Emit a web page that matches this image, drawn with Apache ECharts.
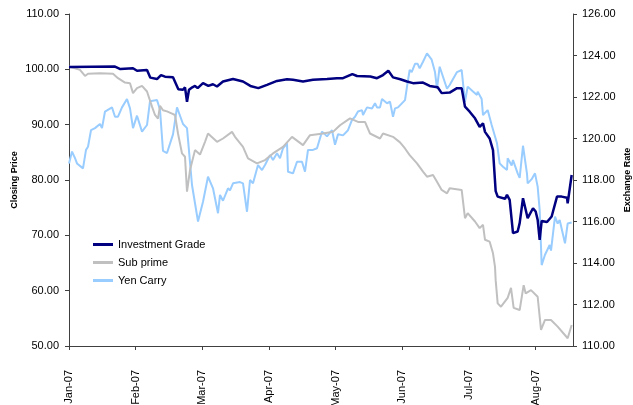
<!DOCTYPE html>
<html>
<head>
<meta charset="utf-8">
<script src="https://cdn.jsdelivr.net/npm/echarts@6/dist/echarts.min.js"></script>
<style>
  html, body { margin: 0; padding: 0; background: #fff; }
  #main { width: 633px; height: 405px; }
</style>
</head>
<body>
<div id="main"></div>
<script>
// x is months since Jan-07 (0 = Jan-07, 1 = Feb-07 ...)
var monthLabels = ['Jan-07', 'Feb-07', 'Mar-07', 'Apr-07', 'May-07', 'Jun-07', 'Jul-07', 'Aug-07'];
var monthTicks = [0, 1, 2, 3, 4, 5, 6, 7];

var investmentGrade = [
    [0, 100.4], [0.69, 100.5], [0.77, 100.05], [0.96, 100.2], [1.02, 99.75], [1.17, 99.9],
    [1.22, 98.5], [1.32, 98.25], [1.38, 98.97], [1.44, 98.67], [1.56, 98.55], [1.64, 96.4],
    [1.71, 96.3], [1.74, 96.75], [1.77, 94.15], [1.80, 96.3], [1.85, 96.75], [1.89, 97.0],
    [1.93, 96.6], [2.01, 97.5], [2.09, 97.0], [2.16, 97.3], [2.22, 96.9], [2.31, 97.8],
    [2.46, 98.25], [2.61, 97.8], [2.72, 97.0], [2.84, 96.6], [2.97, 97.2], [3.12, 97.9],
    [3.27, 98.2], [3.36, 98.1], [3.51, 97.8], [3.66, 98.1], [3.87, 98.25], [4.02, 98.4],
    [4.11, 98.4], [4.25, 99.15], [4.32, 98.8], [4.52, 98.7], [4.62, 98.4], [4.71, 98.97],
    [4.79, 99.75], [4.86, 98.55], [4.97, 98.2], [5.07, 97.8], [5.16, 97.5], [5.31, 97.6],
    [5.41, 97.0], [5.53, 96.75], [5.59, 95.7], [5.71, 95.8], [5.82, 96.6], [5.89, 96.6],
    [5.94, 93.25], [6.01, 92.35], [6.09, 91.15], [6.16, 89.6], [6.21, 90.25], [6.24, 88.7],
    [6.31, 87.5], [6.36, 85.4], [6.40, 78.0], [6.43, 77.0], [6.54, 76.6], [6.57, 77.3],
    [6.61, 76.4], [6.66, 70.4], [6.73, 70.7], [6.76, 72.2], [6.81, 76.7], [6.88, 73.1],
    [6.96, 74.9], [7.0, 74.3], [7.03, 72.8], [7.06, 69.2], [7.09, 72.6], [7.17, 72.4],
    [7.24, 73.4], [7.32, 77.0], [7.39, 77.0], [7.47, 76.8], [7.48, 75.8], [7.54, 80.9]
];

var subPrime = [
    [0, 100.5], [0.165, 99.9], [0.24, 98.8], [0.285, 99.2], [0.465, 99.3], [0.66, 99.2],
    [0.735, 98.4], [0.84, 97.6], [0.915, 97.5], [0.96, 95.7], [1.02, 96.6], [1.095, 97.0],
    [1.17, 96.0], [1.245, 93.25], [1.29, 91.75], [1.335, 91.1], [1.365, 93.4], [1.41, 92.6],
    [1.47, 92.4], [1.545, 92.0], [1.59, 91.75], [1.635, 88.4], [1.695, 84.8], [1.74, 84.2],
    [1.77, 77.9], [1.815, 81.8], [1.89, 85.4], [1.965, 84.6], [2.04, 86.9], [2.085, 88.4],
    [2.22, 86.9], [2.31, 87.5], [2.445, 88.7], [2.49, 87.8], [2.61, 86.0], [2.685, 83.9],
    [2.82, 83.0], [2.94, 83.6], [3.06, 84.8], [3.21, 86.0], [3.345, 87.8], [3.51, 86.3],
    [3.615, 88.1], [3.81, 88.4], [3.96, 88.7], [4.065, 89.9], [4.215, 91.15], [4.335, 90.5],
    [4.44, 90.5], [4.515, 88.4], [4.665, 87.5], [4.71, 88.4], [4.86, 87.8], [4.965, 86.8],
    [5.04, 85.7], [5.11, 84.5], [5.22, 83.0], [5.31, 81.5], [5.37, 80.6], [5.46, 80.9],
    [5.52, 79.7], [5.59, 78.2], [5.67, 77.6], [5.71, 78.5], [5.89, 78.2], [5.94, 73.1],
    [5.98, 74.0], [6.09, 72.5], [6.16, 71.3], [6.21, 71.9], [6.24, 69.2], [6.31, 68.85],
    [6.36, 66.75], [6.39, 64.3], [6.40, 61.9], [6.43, 57.7], [6.48, 57.1], [6.58, 58.7],
    [6.63, 60.5], [6.67, 56.9], [6.76, 56.5], [6.82, 61.0], [6.85, 59.5], [6.93, 60.1],
    [7.03, 58.9], [7.08, 52.9], [7.14, 54.7], [7.23, 54.7], [7.33, 53.5], [7.48, 51.4],
    [7.51, 51.4], [7.54, 53.8]
];

var yenCarry = [
    [0, 118.8], [0.045, 119.37], [0.09, 119.05], [0.12, 118.8], [0.21, 118.56], [0.255, 119.45],
    [0.285, 119.6], [0.33, 120.4], [0.39, 120.5], [0.465, 120.7], [0.495, 120.5], [0.54, 121.3],
    [0.645, 121.5], [0.69, 121.05], [0.735, 121.05], [0.795, 121.5], [0.87, 121.9], [0.915, 121.45],
    [0.96, 120.5], [1.02, 121.1], [1.095, 120.33], [1.17, 120.65], [1.215, 121.8], [1.32, 121.85],
    [1.365, 121.4], [1.41, 119.4], [1.47, 119.3], [1.56, 120.2], [1.62, 121.5], [1.71, 120.7],
    [1.77, 120.5], [1.845, 117.76], [1.935, 116.0], [2.01, 116.95], [2.085, 118.16], [2.16, 117.6],
    [2.235, 116.4], [2.265, 117.28], [2.31, 117.0], [2.385, 117.6], [2.415, 117.5], [2.46, 117.84],
    [2.565, 117.9], [2.61, 117.84], [2.67, 116.47], [2.715, 118.0], [2.76, 117.84], [2.835, 118.72],
    [2.895, 118.48], [2.94, 118.72], [3.015, 119.2], [3.06, 118.96], [3.12, 119.29], [3.165, 119.05],
    [3.21, 119.53], [3.27, 119.77], [3.285, 118.4], [3.36, 118.32], [3.42, 118.88], [3.495, 118.88],
    [3.54, 118.4], [3.585, 119.45], [3.66, 119.45], [3.72, 119.53], [3.795, 120.33], [3.84, 120.2],
    [3.87, 120.1], [3.945, 120.4], [3.99, 119.7], [4.035, 120.2], [4.11, 120.15], [4.185, 120.4],
    [4.245, 120.9], [4.29, 121.05], [4.335, 121.3], [4.395, 121.37], [4.41, 121.13], [4.47, 121.5],
    [4.545, 121.45], [4.59, 121.7], [4.62, 121.5], [4.665, 121.5], [4.695, 121.9], [4.77, 121.7],
    [4.815, 121.77], [4.86, 121.05], [4.89, 121.45], [4.935, 121.5], [5.04, 121.85], [5.07, 122.5],
    [5.11, 123.3], [5.14, 123.2], [5.19, 123.6], [5.23, 123.6], [5.26, 123.38], [5.31, 123.7],
    [5.37, 124.1], [5.44, 123.8], [5.49, 123.2], [5.52, 122.4], [5.56, 123.46], [5.67, 122.4],
    [5.71, 122.58], [5.82, 123.2], [5.89, 123.3], [5.94, 121.77], [5.98, 122.5], [6.06, 122.26],
    [6.12, 122.1], [6.13, 122.26], [6.19, 121.9], [6.21, 121.13], [6.28, 121.37], [6.34, 120.65],
    [6.42, 119.77], [6.46, 118.8], [6.51, 118.64], [6.54, 118.56], [6.57, 118.48], [6.58, 119.05],
    [6.64, 118.7], [6.66, 118.96], [6.73, 118.32], [6.76, 118.1], [6.81, 119.65], [6.87, 118.3],
    [6.88, 117.84], [6.94, 118.04], [6.99, 118.32], [7.03, 117.68], [7.06, 116.55], [7.09, 113.9],
    [7.14, 114.4], [7.21, 114.87], [7.23, 114.6], [7.29, 116.23], [7.33, 115.9], [7.36, 116.07],
    [7.44, 114.95], [7.48, 115.9], [7.54, 115.95]
];

var chart = echarts.init(document.getElementById('main'));
var axisColor = '#404040';
var fontFamily = 'Liberation Sans, Arial, sans-serif';

var option = {
    animation: false,
    backgroundColor: '#fff',
    textStyle: { fontFamily: fontFamily },
    grid: { left: 69, right: 60, top: 14, bottom: 59, outerBoundsMode: 'none', containLabel: false },
    legend: {
        orient: 'vertical',
        left: 88,
        top: 233,
        icon: 'rect',
        itemWidth: 20,
        itemHeight: 3,
        itemGap: 5,
        textStyle: { fontSize: 11, color: '#000', lineHeight: 13, fontFamily: fontFamily },
        data: ['Investment Grade', 'Sub prime', 'Yen Carry']
    },
    xAxis: {
        type: 'value',
        min: 0,
        max: 7.56,
        splitLine: { show: false },
        axisLine: { lineStyle: { color: axisColor, width: 1 } },
        axisTick: { customValues: monthTicks, length: 4, lineStyle: { color: axisColor } },
        axisLabel: {
            customValues: monthTicks,
            rotate: 90,
            margin: 24,
            fontSize: 11,
            color: '#000',
            fontFamily: fontFamily,
            formatter: function (v) { return monthLabels[Math.round(v)]; }
        }
    },
    yAxis: [{
        type: 'value',
        min: 50,
        max: 110,
        interval: 10,
        name: 'Closing Price',
        nameLocation: 'middle',
        nameRotate: 90,
        nameGap: 50,
        nameMoveOverlap: false,
        nameTextStyle: { fontSize: 9, fontWeight: 'bold', color: '#000', fontFamily: fontFamily },
        splitLine: { show: false },
        axisLine: { show: true, lineStyle: { color: axisColor, width: 1 } },
        axisTick: { show: true, length: 4, lineStyle: { color: axisColor } },
        axisLabel: {
            fontSize: 11,
            color: '#000',
            margin: 10,
            fontFamily: fontFamily,
            formatter: function (v) { return v.toFixed(2); }
        }
    }, {
        type: 'value',
        min: 110,
        max: 126,
        interval: 2,
        position: 'right',
        name: 'Exchange Rate',
        nameLocation: 'middle',
        nameRotate: 90,
        nameGap: 50,
        nameMoveOverlap: false,
        nameTextStyle: { fontSize: 9, fontWeight: 'bold', color: '#000', fontFamily: fontFamily },
        splitLine: { show: false },
        axisLine: { show: true, lineStyle: { color: axisColor, width: 1 } },
        axisTick: { show: true, length: 4, lineStyle: { color: axisColor } },
        axisLabel: {
            fontSize: 11,
            color: '#000',
            margin: 9,
            fontFamily: fontFamily,
            formatter: function (v) { return v.toFixed(2); }
        }
    }],
    series: [{
        name: 'Yen Carry',
        type: 'line',
        yAxisIndex: 1,
        showSymbol: false,
        color: '#99ccff',
        lineStyle: { width: 2, color: '#99ccff' },
        data: yenCarry
    }, {
        name: 'Sub prime',
        type: 'line',
        showSymbol: false,
        color: '#c0c0c0',
        lineStyle: { width: 2, color: '#c0c0c0' },
        data: subPrime
    }, {
        name: 'Investment Grade',
        type: 'line',
        showSymbol: false,
        color: '#000080',
        lineStyle: { width: 2.5, color: '#000080' },
        data: investmentGrade
    }]
};

chart.setOption(option);
</script>
</body>
</html>
